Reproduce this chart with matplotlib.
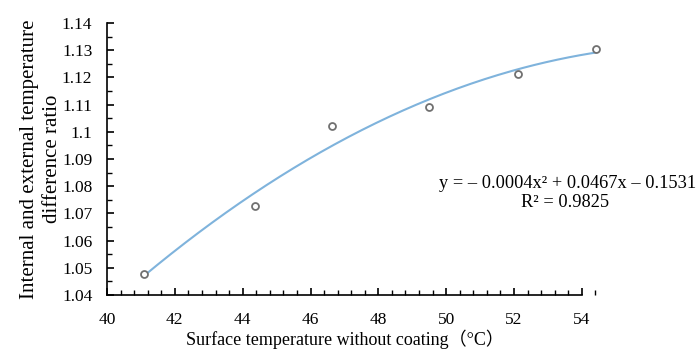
import matplotlib
matplotlib.use('Agg')
import matplotlib.pyplot as plt
import numpy as np
from matplotlib.ticker import MultipleLocator, FuncFormatter

plt.rcParams['font.family'] = ['Liberation Serif', 'DejaVu Serif']

# data
surface_temp = [41.09, 44.35, 46.63, 49.49, 52.11, 54.41]
temp_ratio = [1.0477, 1.0727, 1.1021, 1.1091, 1.1213, 1.1304]
equation = 'y = – 0.0004x² + 0.0467x – 0.1531'
r_squared = 'R² = 0.9825'

fig = plt.figure(figsize=(6.97, 3.52), dpi=100)
ax = fig.add_axes([0.1535, 0.162, 0.7105, 0.7727])

# polynomial trendline (order 2) fitted to the points
coef = np.polyfit(surface_temp, temp_ratio, 2)
xs = np.linspace(min(surface_temp), max(surface_temp), 200)
ax.plot(xs, np.polyval(coef, xs), color='#7fb3dc', lw=1.5, zorder=2)
ax.plot(surface_temp, temp_ratio, 'o', mfc='white', mec='#707070',
        mew=1.3, ms=5, zorder=3)

ax.set_xlim(40, 54.6)
ax.set_ylim(1.04, 1.14)
ax.spines['bottom'].set_bounds(40, 54)
ax.spines['top'].set_visible(False)
ax.spines['right'].set_visible(False)
for s in ['left', 'bottom']:
    ax.spines[s].set_linewidth(1.2)

ax.xaxis.set_major_locator(MultipleLocator(2))
ax.xaxis.set_minor_locator(MultipleLocator(0.4))
ax.yaxis.set_major_locator(MultipleLocator(0.01))
ax.yaxis.set_minor_locator(MultipleLocator(0.005))
ax.yaxis.set_major_formatter(FuncFormatter(lambda v, p: '%g' % round(v, 2)))
ax.tick_params(which='major', direction='in', length=5, width=1.2,
               labelsize=12.5)
ax.tick_params(axis='y', which='major', pad=10.5)
ax.tick_params(axis='x', which='major', pad=12)
ax.tick_params(which='minor', direction='in', length=3.5, width=1.0)

ax.set_xlabel('Surface temperature without coating（°C）', fontsize=13,
              labelpad=1, family=['Liberation Serif', 'Noto Sans CJK SC'])
ax.xaxis.label.set_x(0.48)
ax.set_ylabel('Internal and external temperature\ndifference ratio',
              fontsize=15, linespacing=1.3, labelpad=0)

fig.text(0.815, 0.48, equation, ha='center', va='center', fontsize=13.2)
fig.text(0.811, 0.426, r_squared, ha='center', va='center', fontsize=13.2)

fig.savefig('out.png', dpi=100)
